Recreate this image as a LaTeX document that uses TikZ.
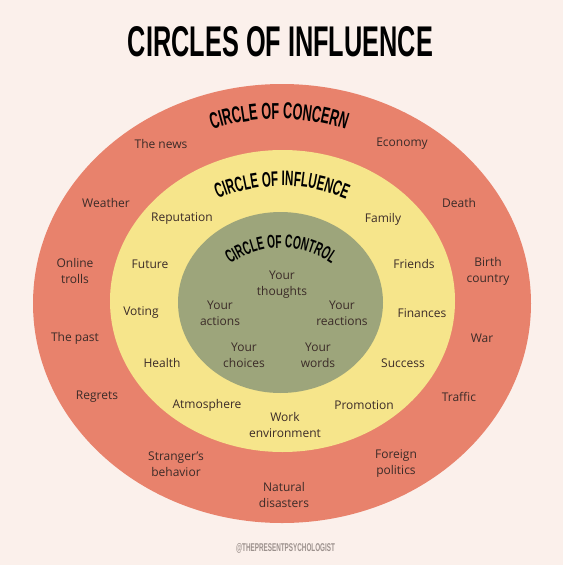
\documentclass[tikz,border=0pt]{standalone}
\usepackage{fontspec}
\usepackage{graphicx}
\setmainfont{Open Sans}
\newfontfamily\headfont[FakeStretch=0.55]{Liberation Sans}
\usetikzlibrary{decorations.text}
\definecolor{paper}{HTML}{FBF0EB}
\definecolor{concern}{HTML}{E8826C}
\definecolor{influence}{HTML}{F6E58B}
\definecolor{control}{HTML}{9DA57B}
\definecolor{ink}{HTML}{3B2B28}
\definecolor{mark}{HTML}{9C918D}
\tikzset{
  lbl/.style={font=\fontsize{12}{16}\selectfont, text=ink, align=center, inner sep=0pt},
  arcname/.style={decorate, decoration={text along path, text align=center, text={#1}}}
}
\begin{document}
\begin{tikzpicture}[x=1pt,y=-1pt]
\useasboundingbox (0,0) rectangle (563,565);
\fill[paper] (0,0) rectangle (563,565);
\draw (280.5,41.5) node[inner sep=0pt](title) {\resizebox{305pt}{30pt}{\headfont\bfseries CIRCLES OF INFLUENCE}};
\fill[concern] (282,303.5) ellipse[x radius=249, y radius=219.5];
  \fill[influence] (282.5,301) ellipse[x radius=172.5, y radius=151];
    \fill[control] (280.5,302.5) ellipse[x radius=102.5, y radius=90.5];
\path[arcname={|\headfont\bfseries\fontsize{23}{23}\selectfont|CIRCLE OF CONCERN}] ([shift={(235:215)}]279,334) arc[start angle=235, end angle=305, radius=215];
  \path[arcname={|\headfont\bfseries\fontsize{21}{21}\selectfont|CIRCLE OF INFLUENCE}] ([shift={(225:165)}]282,351) arc[start angle=225, end angle=315, radius=165];
    \path[arcname={|\headfont\bfseries\fontsize{18.5}{18.5}\selectfont|CIRCLE OF CONTROL}] ([shift={(200:88)}]281,336) arc[start angle=200, end angle=340, radius=88];
\draw (161,144) node[lbl](news) {The news} ;
\draw (402,144) node[lbl](economy) {Economy} ;
\draw (106,203) node[lbl](weather) {Weather} ;
\draw (459,203) node[lbl](death) {Death} ;
\draw (75,271) node[lbl](trolls) {Online\\trolls} ;
\draw (488,271) node[lbl](birth) {Birth\\country} ;
\draw (75,338) node[lbl](past) {The past} ;
\draw (482,338) node[lbl](war) {War} ;
\draw (97,397) node[lbl](regrets) {Regrets} ;
\draw (459,397) node[lbl](traffic) {Traffic} ;
\draw (176,464) node[lbl](stranger) {Stranger's\\behavior} ;
\draw (396,464) node[lbl](foreign) {Foreign\\politics} ;
\draw (284,495) node[lbl](natural) {Natural\\disasters} ;
  \draw (182,219) node[lbl](reputation) {Reputation} ;
  \draw (383,219) node[lbl](family) {Family} ;
  \draw (150,264) node[lbl](future) {Future} ;
  \draw (414,264) node[lbl](friends) {Friends} ;
  \draw (141,313) node[lbl](voting) {Voting} ;
  \draw (422,313) node[lbl](finances) {Finances} ;
  \draw (162,363) node[lbl](health) {Health} ;
  \draw (403,363) node[lbl](success) {Success} ;
  \draw (207,405) node[lbl](atmosphere) {Atmosphere} ;
  \draw (364,405) node[lbl](promotion) {Promotion} ;
  \draw (285,425) node[lbl](work) {Work\\environment} ;
    \draw (282,285) node[lbl](thoughts) {Your\\thoughts} ;
    \draw (220,313) node[lbl](actions) {Your\\actions} ;
    \draw (342,313) node[lbl](reactions) {Your\\reactions} ;
    \draw (244,355) node[lbl](choices) {Your\\choices} ;
    \draw (318,355) node[lbl](words) {Your\\words} ;
\draw (285.5,548) node[inner sep=0pt, text=mark](handle) {\resizebox{99pt}{8pt}{\headfont\bfseries @THEPRESENTPSYCHOLOGIST}};
\end{tikzpicture}
\end{document}
